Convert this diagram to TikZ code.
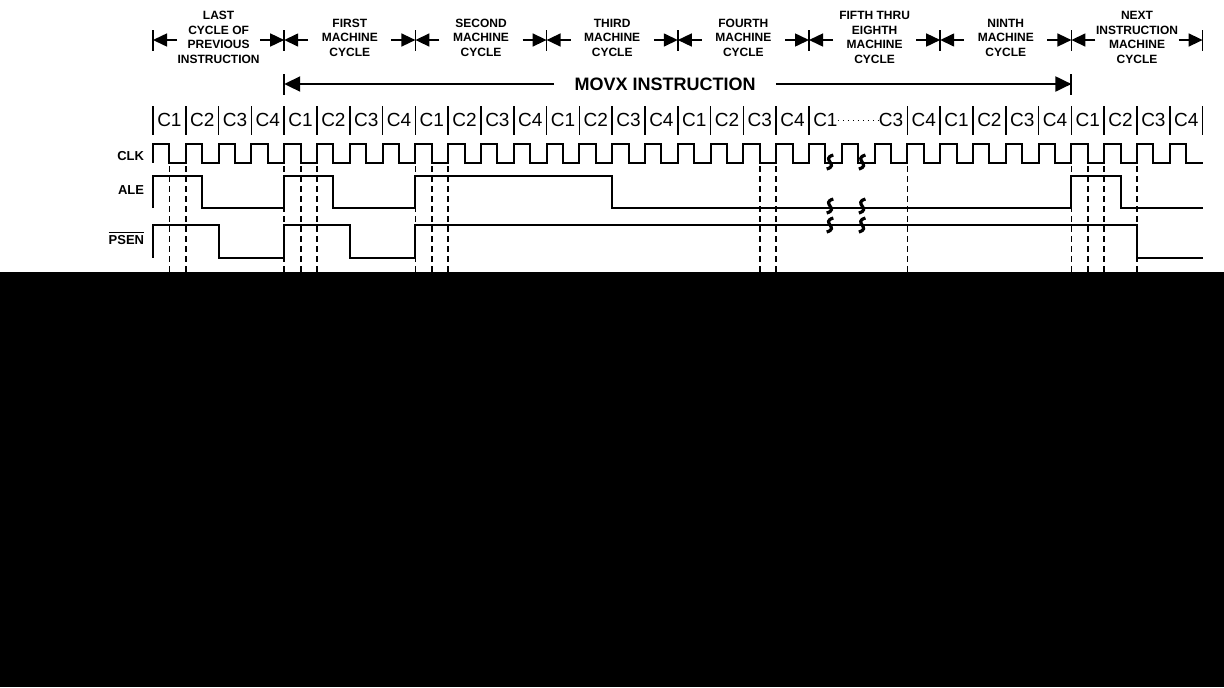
\documentclass[tikz,border=0pt]{standalone}
\usepackage{amsmath}
\usepackage{fontspec}
\setmainfont{Liberation Sans}
\usepackage{tikz}
\usetikzlibrary{arrows.meta}
\tikzset{>=latex}
\newcommand{\brkmark}[2]{\draw[brk] ({#1-0.1},{#2+7}) .. controls ({#1+0.3},{#2+3}) and ({#1-0.3},{#2-3}) .. ({#1+0.1},{#2-7});}

\begin{document}
\begin{tikzpicture}[x=16.4pt, y=-0.5pt,
  cyc/.style={line width=0.75pt, -{Triangle[length=7pt,width=6.5pt]}},
  movx/.style={line width=1pt, -{Triangle[length=8pt,width=7.5pt]}},
  cyclbl/.style={font=\fontsize{6}{7.25}\selectfont\bfseries, align=center, inner sep=0pt},
  sig/.style={line width=1pt},
  siglbl/.style={font=\fontsize{6.5}{7}\selectfont\bfseries, anchor=east, inner sep=0pt},
  phlbl/.style={font=\fontsize{9.5}{10}\selectfont, inner sep=0pt},
  guide/.style={line width=0.9pt, dash pattern=on 3pt off 2pt},
  brk/.style={line width=1.6pt}]
\useasboundingbox (-4.6646,0) rectangle (32.6524,687);

\foreach \i in {0,...,8} {
  \coordinate (m\i) at (4*\i,40);
  \draw[line width=0.75pt] (m\i) ++(0,-10) -- ++(0,21);
}
\foreach \i [count=\j] in {0,...,7} {
  \draw[cyc] ([xshift=12pt]m\i) -- (m\i);
  \draw[cyc] ([xshift=-12pt]m\j) -- (m\j);
}
\foreach \t [count=\i from 0] in {{LAST\\CYCLE OF\\PREVIOUS\\INSTRUCTION},{FIRST\\MACHINE\\CYCLE},{SECOND\\MACHINE\\CYCLE},{THIRD\\MACHINE\\CYCLE},{FOURTH\\MACHINE\\CYCLE},{FIFTH THRU\\EIGHTH\\MACHINE\\CYCLE},{NINTH\\MACHINE\\CYCLE},{NEXT\\INSTRUCTION\\MACHINE\\CYCLE}}
  \node[cyclbl] (cyc\i) at (4*\i+2,37.5) {\t};

\node[font=\fontsize{9}{9}\selectfont\bfseries, inner xsep=10pt, inner ysep=0pt] (movxlbl) at (15.61,84) {MOVX INSTRUCTION};
\coordinate (mv0) at (4,84);
\coordinate (mv1) at (28,84);
\draw[movx] (movxlbl.west) -- (mv0);
\draw[movx] (movxlbl.east) -- (mv1);
\draw[line width=1pt] (mv0) ++(0,-10) -- ++(0,21) (mv1) ++(0,-10) -- ++(0,21);

\foreach \k in {0,...,20,23,24,...,32}
  \draw[line width=0.8pt] (\k,106) -- (\k,135);
\foreach \k in {0,...,20,22,23,...,31} {
  \pgfmathtruncatemacro\c{mod(\k,4)+1}
  \node[phlbl] (ph\k) at (\k+0.5,120) {C\c};
}
\draw[dotted, line width=0.5pt] (ph20.east) -- (ph22.west);

\node[siglbl] (clk) at (-0.26,156) {CLK};
\node[siglbl] (ale) at (-0.26,190) {ALE};
\node[siglbl] (psen) at (-0.26,238) {$\overline{\mbox{PSEN}}$};

\draw[sig] (0,162.5) -- (0,144) \foreach \k in {0,...,30} { -- ({\k+0.5},144) -- ({\k+0.5},162.5) -- ({\k+1},162.5) -- ({\k+1},144) } -- (31.5,144) -- (31.5,162.5) -- (32,162.5);
\draw[sig] (0,208) -- (0,175.5) -- (1.5,175.5) -- (1.5,208) -- (4,208) -- (4,175.5) -- (5.5,175.5) -- (5.5,208) -- (8,208) -- (8,175.5) -- (14,175.5) -- (14,208) -- (28,208) -- (28,175.5) -- (29.5,175.5) -- (29.5,208) -- (32,208);
\draw[sig] (0,257.5) -- (0,225) -- (2,225) -- (2,257.5) -- (4,257.5) -- (4,225) -- (6,225) -- (6,257.5) -- (8,257.5) -- (8,225) -- (30,225) -- (30,257.5) -- (32,257.5);

\foreach \k in {0.5,1,4,4.5,5,8,8.5,9,18.5,19,23,28,28.5,29,30}
  \draw[guide] (\k,166) -- (\k,271.5);

\foreach \x in {20.64,21.62} {
  \brkmark{\x}{162}
  \brkmark{\x}{206}
  \brkmark{\x}{225}
}

\fill[black] (-4.6646,271.5) rectangle (32.6524,687);
\end{tikzpicture}
\end{document}
